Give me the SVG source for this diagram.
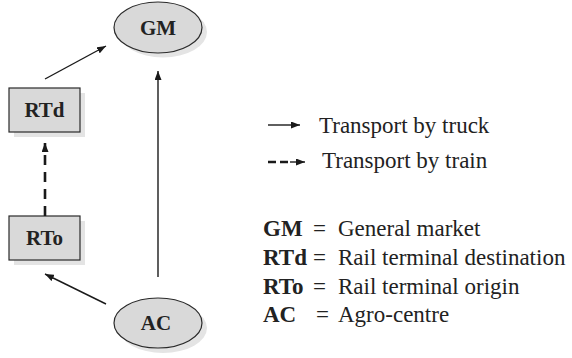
<svg xmlns="http://www.w3.org/2000/svg" width="572" height="358" viewBox="0 0 572 358">
<defs>
<marker id="ah" viewBox="0 0 9 7" refX="9" refY="3.5" markerWidth="9" markerHeight="7" markerUnits="userSpaceOnUse" orient="auto">
<path d="M0,0 L9,3.5 L0,7 z" fill="#1a1a1a"/>
</marker>
</defs>
<style>
.node{fill:#d9d9d9;stroke:#2a2a2a;stroke-width:1.2}
.shadow{fill:#e4e4e4;stroke:none}
.lbl{font-family:"Liberation Serif","Times New Roman",serif;font-weight:bold;font-size:21px;fill:#222;text-anchor:middle}
.leg{font-family:"Liberation Serif","Times New Roman",serif;font-size:23px;fill:#222}
.legb{font-family:"Liberation Serif","Times New Roman",serif;font-size:23px;font-weight:bold;fill:#222}
.truck{stroke:#1a1a1a;stroke-width:1.4;fill:none;marker-end:url(#ah)}
.train{stroke:#1a1a1a;stroke-width:2.6;fill:none;stroke-dasharray:10 7;marker-end:url(#ah)}
</style>
<rect width="572" height="358" fill="#ffffff"/>
<g id="GM">
<ellipse class="shadow" cx="163" cy="32" rx="44" ry="25.5"/>
<ellipse class="node" cx="158" cy="27.5" rx="44" ry="25.5"/>
<text class="lbl" x="158" y="34.5">GM</text>
</g>
<g id="RTd">
<rect class="shadow" x="14" y="93" width="71" height="44"/>
<rect class="node" x="9" y="88" width="71" height="44"/>
<text class="lbl" x="44.5" y="117">RTd</text>
</g>
<g id="RTo">
<rect class="shadow" x="14" y="221" width="71" height="44"/>
<rect class="node" x="9" y="216" width="71" height="44"/>
<text class="lbl" x="44.5" y="245">RTo</text>
</g>
<g id="AC">
<ellipse class="shadow" cx="163" cy="328" rx="44" ry="25"/>
<ellipse class="node" cx="158" cy="323" rx="44" ry="25"/>
<text class="lbl" x="156" y="330">AC</text>
</g>
<g id="connectors">
<line class="truck" x1="45" y1="79" x2="106" y2="46"/>
<line class="truck" x1="158" y1="277" x2="158" y2="71"/>
<line class="train" x1="45" y1="216" x2="45" y2="143"/>
<line class="truck" x1="106" y1="304" x2="45" y2="274"/>
</g>
<g id="legend">
<line class="truck" x1="268" y1="125" x2="300" y2="125"/>
<text class="leg" x="319" y="133">Transport by truck</text>
<line x1="268" y1="162" x2="291" y2="162" stroke="#1a1a1a" stroke-width="2.6" stroke-dasharray="8 4"/>
<line class="truck" x1="290" y1="162" x2="305" y2="162"/>
<text class="leg" x="322" y="168">Transport by train</text>
<text class="legb" x="263" y="236">GM</text><text class="leg" x="313" y="236">=</text><text class="leg" x="338" y="236">General market</text>
<text class="legb" x="263" y="265">RTd</text><text class="leg" x="313" y="265">=</text><text class="leg" x="338" y="265">Rail terminal destination</text>
<text class="legb" x="263" y="294">RTo</text><text class="leg" x="313" y="294">=</text><text class="leg" x="338" y="294">Rail terminal origin</text>
<text class="legb" x="263" y="322">AC</text><text class="leg" x="316" y="322">=</text><text class="leg" x="338" y="322">Agro-centre</text>
</g>
</svg>
